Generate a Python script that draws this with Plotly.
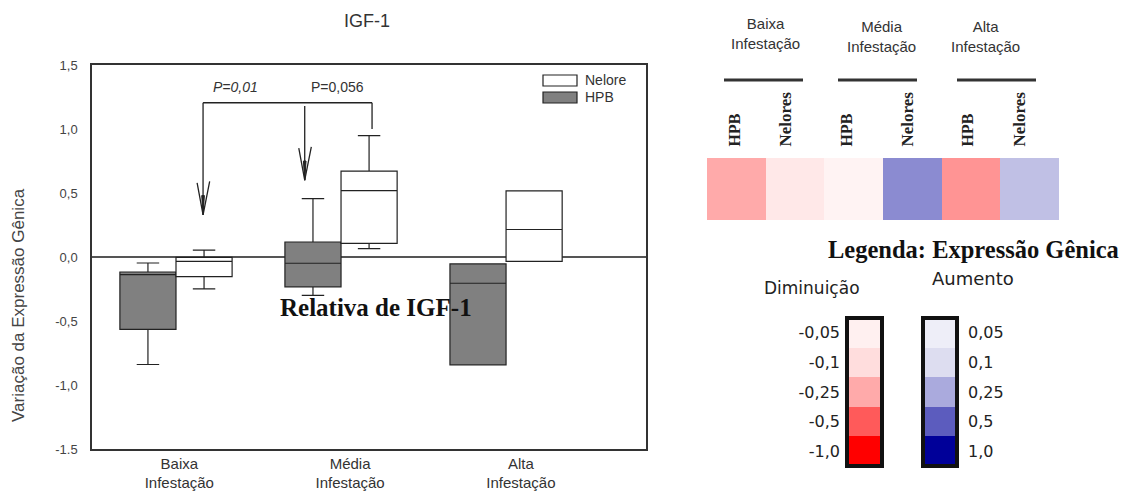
import plotly.graph_objects as go

W, H = 1125, 496

# ---- box plot data (IGF-1 relative expression) ----
categories = ["Baixa<br>Infestação", "Média<br>Infestação", "Alta<br>Infestação"]
cat_pos = [0, 1, 2]

hpb_q1 = [-0.565, -0.233, -0.842]
hpb_median = [-0.137, -0.049, -0.205]
hpb_q3 = [-0.117, 0.117, -0.054]
hpb_low = [-0.840, -0.300, -0.842]
hpb_high = [-0.047, 0.456, -0.054]

nel_q1 = [-0.153, 0.106, -0.034]
nel_median = [-0.034, 0.518, 0.215]
nel_q3 = [-0.003, 0.671, 0.516]
nel_low = [-0.249, 0.065, -0.034]
nel_high = [0.054, 0.948, 0.516]

y_tickvals = [-1.5, -1.0, -0.5, 0.0, 0.5, 1.0, 1.5]
y_ticktext = ["-1.5", "-1,0", "-0,5", "0,0", "0,5", "1,0", "1,5"]

# ---- heatmap data ----
heat_cols = ["HPB", "Nelores", "HPB", "Nelores", "HPB", "Nelores"]
heat_values = [-0.25, -0.07, -0.04, 0.35, -0.32, 0.185]
heat_groups = ["Baixa<br>Infestação", "Média<br>Infestação", "Alta<br>Infestação"]

# ---- colour legend ----
dec_levels = [-0.05, -0.1, -0.25, -0.5, -1.0]
dec_labels = ["-0,05", "-0,1", "-0,25", "-0,5", "-1,0"]
inc_levels = [0.05, 0.1, 0.25, 0.5, 1.0]
inc_labels = ["0,05", "0,1", "0,25", "0,5", "1,0"]

stop_vals = [-1.0, -0.5, -0.25, -0.1, -0.05, 0.0, 0.05, 0.1, 0.25, 0.5, 1.0]
stop_cols = ["#FF0000", "#FF5A5A", "#FFAAAA", "#FFDDDD", "#FFF0F0", "#FFFFFF",
             "#EEEEF8", "#DDDDF0", "#AAAADD", "#5C5CBE", "#000099"]
colorscale = [[(v + 1) / 2, c] for v, c in zip(stop_vals, stop_cols)]


def px(x):
    return x / W


def py(y):
    return 1 - y / H


fig = go.Figure()

off = 0.17
fig.add_trace(go.Box(
    x=[c - off for c in cat_pos], q1=hpb_q1, median=hpb_median, q3=hpb_q3,
    lowerfence=hpb_low, upperfence=hpb_high, name="HPB",
    fillcolor="#808080", line=dict(color="#222222", width=1.2),
    width=0.34, whiskerwidth=0.4, boxpoints=False, hoverinfo="skip",
))
fig.add_trace(go.Box(
    x=[c + off for c in cat_pos], q1=nel_q1, median=nel_median, q3=nel_q3,
    lowerfence=nel_low, upperfence=nel_high, name="Nelore",
    fillcolor="#FFFFFF", line=dict(color="#222222", width=1.2),
    width=0.34, whiskerwidth=0.4, boxpoints=False, hoverinfo="skip",
))

# heatmap
fig.add_trace(go.Heatmap(
    z=[heat_values], x=list(range(len(heat_values))), y=[0],
    colorscale=colorscale, zmin=-1, zmax=1, showscale=False,
    xaxis="x2", yaxis="y2", hoverinfo="skip",
))
# legend bars
fig.add_trace(go.Heatmap(
    z=[[v] for v in dec_levels], x=[0], y=list(range(len(dec_levels))),
    colorscale=colorscale, zmin=-1, zmax=1, showscale=False,
    xaxis="x3", yaxis="y3", hoverinfo="skip",
))
fig.add_trace(go.Heatmap(
    z=[[v] for v in inc_levels], x=[0], y=list(range(len(inc_levels))),
    colorscale=colorscale, zmin=-1, zmax=1, showscale=False,
    xaxis="x4", yaxis="y4", hoverinfo="skip",
))

shapes = []
line_k = dict(color="#222222", width=1.3)
# bracket and arrows
bx_l, bx_m, bx_r, by = 0.164, 0.78, 1.188, 1.205
tip_l, tip_m = 0.33, 0.60
shapes.append(dict(type="line", x0=bx_l, x1=bx_r, y0=by, y1=by, line=line_k))
shapes.append(dict(type="line", x0=bx_l, x1=bx_l, y0=by, y1=tip_l, line=line_k))
shapes.append(dict(type="line", x0=bx_r, x1=bx_r, y0=by, y1=1.0, line=line_k))
shapes.append(dict(type="line", x0=bx_m, x1=bx_m, y0=1.18, y1=tip_m, line=line_k))
for xt, yt in [(bx_l, tip_l), (bx_m, tip_m)]:
    shapes.append(dict(type="path",
                       path=f"M {xt-0.036},{yt+0.25} L {xt},{yt} L {xt+0.04},{yt+0.26}",
                       line=line_k))
    shapes.append(dict(type="path",
                       path=f"M {xt-0.008},{yt+0.15} L {xt},{yt} L {xt+0.008},{yt+0.15} Z",
                       fillcolor="#222222", line=dict(color="#222222", width=1)))

# legend swatches
for (y0, y1), col in [((75, 86), "#FFFFFF"), ((92, 103), "#808080")]:
    shapes.append(dict(type="rect", xref="paper", yref="paper",
                       x0=px(543), x1=px(577), y0=py(y1), y1=py(y0),
                       fillcolor=col, line=dict(color="#222222", width=1.2)))

# group lines above heatmap
for x0, x1 in [(724, 803), (838, 917), (957, 1036)]:
    shapes.append(dict(type="line", xref="paper", yref="paper",
                       x0=px(x0), x1=px(x1), y0=py(80), y1=py(80),
                       line=dict(color="#333333", width=3)))

# borders of legend bars
for ax in ["x3", "x4"]:
    yax = "y3" if ax == "x3" else "y4"
    shapes.append(dict(type="rect", xref=f"{ax} domain", yref=f"{yax} domain",
                       x0=0, x1=1, y0=0, y1=1,
                       line=dict(color="#111111", width=4)))

fig.update_layout(shapes=shapes)

ann = []
font_a = "Arial, Liberation Sans, sans-serif"


def note(text, x, y, size, family=font_a, color="#333", xanchor="center",
         angle=0, yanchor="middle", xref="paper", yref="paper"):
    if xref == "paper":
        x = px(x)
    if yref == "paper":
        y = py(y)
    ann.append(dict(text=text, x=x, y=y, xref=xref, yref=yref, showarrow=False,
                    xanchor=xanchor, yanchor=yanchor, textangle=angle,
                    align="center",
                    font=dict(family=family, size=size, color=color)))


serif = "Liberation Serif, Times New Roman, serif"
note("IGF-1", 367, 21, 18)
note("Variação da Expressão Gênica", 18, 305, 17, color="#444", angle=-90)
note("<i>P=0,01</i>", 0.36, 1.33, 14, xref="x", yref="y")
note("P=0,056", 0.976, 1.33, 14, xref="x", yref="y")
note("Nelore", 583, 80, 14, xanchor="left")
note("HPB", 583, 97, 14, xanchor="left")
note("<b>Relativa de IGF-1</b>", 376, 307, 25, family=serif, color="#111")

# heatmap group labels
for g, xc, yc in zip(heat_groups, [765, 881, 985], [33, 36, 36]):
    note(g, xc, yc, 15)
# rotated column labels
for lab, xc in zip(heat_cols, [734, 785, 846, 907, 967, 1019]):
    size = 16 if lab == "HPB" else 17
    note(f"<b>{lab}</b>", xc, 149, size, family="Liberation Serif, serif",
         color="#222", angle=-90, yanchor="bottom")

note("<b>Legenda: Expressão Gênica</b>", 973, 249, 24.5, family=serif, color="#111")
note("Diminuição", 812, 288, 17, family="DejaVu Sans", color="#222")
note("Aumento", 973, 278, 18, family="DejaVu Sans", color="#222")

fig.update_layout(
    width=W, height=H, margin=dict(l=0, r=0, t=0, b=0, autoexpand=False),
    paper_bgcolor="white", plot_bgcolor="white", showlegend=False,
    boxmode="overlay", annotations=ann,
    xaxis=dict(domain=[px(92), px(646)], range=[-0.509, 2.848],
               tickvals=[0.02, 1.055, 2.09], ticktext=categories,
               ticks="", showgrid=False, zeroline=False, automargin=False,
               showline=True, mirror=True, linecolor="#333", linewidth=1.5,
               tickfont=dict(family=font_a, size=15, color="#333")),
    yaxis=dict(domain=[py(449), py(65)], range=[-1.5, 1.5],
               tickvals=y_tickvals, ticktext=y_ticktext, ticks="",
               ticklabelstandoff=10, showgrid=False, automargin=False,
               zeroline=True, zerolinecolor="#555", zerolinewidth=1.5,
               showline=True, mirror=True, linecolor="#333", linewidth=1.5,
               tickfont=dict(family=font_a, size=13, color="#444")),
    xaxis2=dict(domain=[px(707), px(1059)], anchor="y2", visible=False,
                range=[-0.5, 5.5]),
    yaxis2=dict(domain=[py(220), py(158)], anchor="x2", visible=False,
                range=[-0.5, 0.5]),
    xaxis3=dict(domain=[px(847), px(882)], anchor="y3", visible=False,
                range=[-0.5, 0.5]),
    yaxis3=dict(domain=[py(466), py(318)], anchor="x3", range=[4.5, -0.5],
                tickvals=list(range(5)), ticktext=dec_labels, ticks="",
                showgrid=False, zeroline=False, showline=False,
                ticklabelstandoff=6, automargin=False,
                tickfont=dict(family="DejaVu Sans", size=16, color="#222")),
    xaxis4=dict(domain=[px(923), px(957)], anchor="y4", visible=False,
                range=[-0.5, 0.5]),
    yaxis4=dict(domain=[py(466), py(318)], anchor="x4", range=[4.5, -0.5],
                side="right", tickvals=list(range(5)), ticktext=inc_labels,
                ticks="", showgrid=False, zeroline=False, showline=False,
                ticklabelstandoff=10, automargin=False,
                tickfont=dict(family="DejaVu Sans", size=16, color="#222")),
)

fig.write_html("out.html", config={"displayModeBar": False},
               post_script="document.body.style.margin='0';"
                           "document.body.style.overflow='hidden';")
